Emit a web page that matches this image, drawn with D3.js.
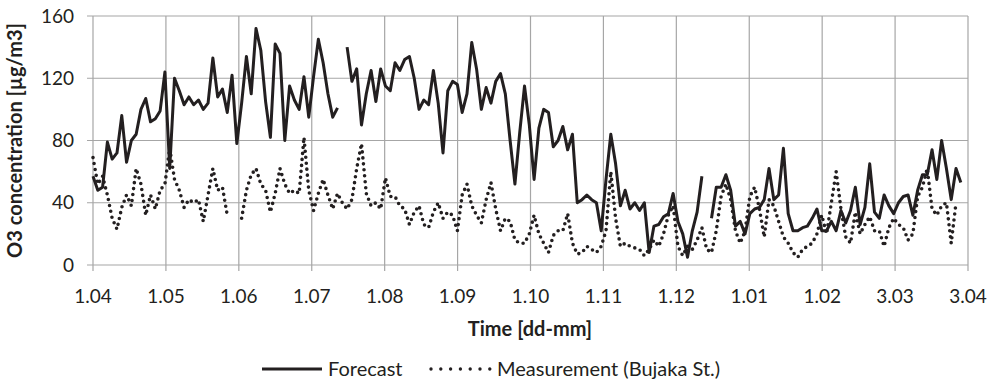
<!DOCTYPE html>
<html>
<head>
<meta charset="utf-8">
<script src="https://cdn.jsdelivr.net/npm/d3@7"></script>
<style>
  body { margin: 0; background: #fff; }
  text { font-family: Lato, "Open Sans", sans-serif; fill: #231f20; }
</style>
</head>
<body>
<svg id="chart" width="998" height="382"></svg>
<script>
// tick labels on the time axis (dd-mm)
var tickLabels = ["1.04", "1.05", "1.06", "1.07", "1.08", "1.09", "1.10", "1.11", "1.12", "1.01", "1.02", "3.03", "3.04"];
var yTicks = [0, 40, 80, 120, 160];

// one value every 2 days, starting 1.04; null = missing
var forecast = [
  57, 48, 50, 79, 68, 72, 96, 66, 80, 84,
  100, 107, 92, 94, 99, 124, 62, 120, 112, 103,
  108, 103, 106, 100, 104, 133, 108, 113, 98, 122,
  78, 104, 134, 110, 152, 138, 105, 82, 142, 136,
  80, 115, 106, 100, 121, 95, 121, 145, 130, 110,
  95, 101, null, 140, 118, 126, 90, 110, 125, 105,
  126, 115, 112, 130, 125, 132, 134, 120, 100, 106,
  103, 125, 104, 72, 112, 118, 116, 98, 110, 143,
  126, 100, 114, 104, 118, 123, 110, 80, 52, 85,
  115, 90, 55, 88, 100, 98, 76, 80, 89, 74,
  84, 40, 42, 45, 42, 40, 22, 55, 84, 65,
  38, 48, 36, 40, 35, 40, 8, 25, 26, 31,
  33, 46, 28, 20, 5, 22, 34, 57, null, 30,
  50, 50, 58, 48, 25, 28, 20, 33, 36, 37,
  42, 62, 42, 45, 75, 33, 22, 22, 24, 25,
  30, 36, 22, 22, 28, 22, 35, 27, 35, 50,
  26, 37, 65, 34, 30, 45, 38, 33, 40, 44,
  45, 32, 48, 58, 58, 74, 55, 80, 62, 42,
  62, 53
];

var measurement = [
  69, 52, 57, 45, 30, 23, 37, 45, 38, 62,
  52, 32, 45, 36, 48, 52, 75, 55, 48, 37,
  42, 40, 42, 28, 45, 62, 48, 50, 32, null,
  null, 30, 48, 58, 62, 52, 48, 34, 46, 62,
  52, 46, 48, 46, 82, 48, 35, 46, 55, 45,
  36, 46, 40, 36, 42, 62, 78, 46, 38, 40,
  36, 56, 44, 44, 38, 36, 26, 34, 38, 26,
  24, 34, 40, 30, 34, 32, 22, 45, 52, 38,
  32, 27, 42, 53, 36, 22, 30, 28, 16, 14,
  14, 20, 32, 20, 14, 8, 19, 22, 22, 33,
  14, 7, 8, 12, 10, 8, 12, 22, 60, 30,
  12, 14, 12, 11, 10, 6, 10, 16, 12, 20,
  32, 38, 12, 6, 12, 10, 16, 24, 10, 8,
  22, 44, 52, 42, 22, 14, 22, 44, 50, 36,
  18, 42, 38, 28, 18, 14, 8, 5, 10, 12,
  14, 20, 32, 20, 40, 60, 36, 18, 14, 34,
  20, 26, 31, 22, 22, 12, 24, 30, 26, 24,
  16, 20, 44, 50, 62, 36, 32, 38, 40, 14,
  40
];

var svg = d3.select("#chart");
var margin = {left: 93, right: 30, top: 16, bottom: 117};
var width = 998 - margin.left - margin.right;
var height = 382 - margin.top - margin.bottom;

var x = d3.scaleLinear().domain([0, 365]).range([0, width]);
var y = d3.scaleLinear().domain([0, 160]).range([height, 0]);
var tickPos = tickLabels.map((d, i) => i * 365 / 12);

var g = svg.append("g")
    .attr("transform", "translate(" + margin.left + "," + margin.top + ")");

// grid
g.append("g")
    .selectAll("line.hgrid")
    .data(yTicks)
    .enter().append("line")
    .attr("x1", -6).attr("x2", width)
    .attr("y1", d => y(d)).attr("y2", d => y(d))
    .attr("stroke", "#a6a6a6").attr("stroke-width", 1.2);

g.append("g")
    .selectAll("line.vgrid")
    .data(tickPos)
    .enter().append("line")
    .attr("x1", d => x(d)).attr("x2", d => x(d))
    .attr("y1", 0).attr("y2", height + 6)
    .attr("stroke", "#a6a6a6").attr("stroke-width", 1.2);

// axis labels
g.append("g")
    .selectAll("text")
    .data(yTicks)
    .enter().append("text")
    .attr("x", -19)
    .attr("y", d => y(d))
    .attr("dy", "0.35em")
    .attr("text-anchor", "end")
    .attr("font-size", "19px")
    .text(d => d);

g.append("g")
    .selectAll("text")
    .data(tickLabels)
    .enter().append("text")
    .attr("x", (d, i) => x(tickPos[i]))
    .attr("y", height + 38)
    .attr("text-anchor", "middle")
    .attr("font-size", "19px")
    .text(d => d);

svg.append("text")
    .attr("transform", "translate(22," + (margin.top + height / 2) + ") rotate(-90)")
    .attr("text-anchor", "middle")
    .attr("font-size", "20px")
    .attr("font-weight", "bold")
    .text("O3 concentration [µg/m3]");

svg.append("text")
    .attr("x", 530).attr("y", 336)
    .attr("text-anchor", "middle")
    .attr("font-size", "20px")
    .attr("font-weight", "bold")
    .text("Time [dd-mm]");

// series
var line = d3.line()
    .defined(d => d != null)
    .x((d, i) => x(i * 2))
    .y(d => y(d));

g.append("path")
    .datum(measurement)
    .attr("d", line)
    .attr("fill", "none")
    .attr("stroke", "#231f20")
    .attr("stroke-width", 3.6)
    .attr("stroke-linecap", "round")
    .attr("stroke-dasharray", "0,6");

g.append("path")
    .datum(forecast)
    .attr("d", line)
    .attr("fill", "none")
    .attr("stroke", "#231f20")
    .attr("stroke-width", 3)
    .attr("stroke-linejoin", "round");

// legend
var legend = svg.append("g");
legend.append("line")
    .attr("x1", 262).attr("x2", 322).attr("y1", 369).attr("y2", 369)
    .attr("stroke", "#231f20").attr("stroke-width", 3);
legend.append("text")
    .attr("x", 328).attr("y", 376)
    .attr("font-size", "20px")
    .text("Forecast");
legend.append("line")
    .attr("x1", 431).attr("x2", 490).attr("y1", 369).attr("y2", 369)
    .attr("stroke", "#231f20").attr("stroke-width", 3.4)
    .attr("stroke-linecap", "round").attr("stroke-dasharray", "0,9.8");
legend.append("text")
    .attr("x", 497).attr("y", 376)
    .attr("font-size", "20px")
    .text("Measurement (Bujaka St.)");
</script>
</body>
</html>
